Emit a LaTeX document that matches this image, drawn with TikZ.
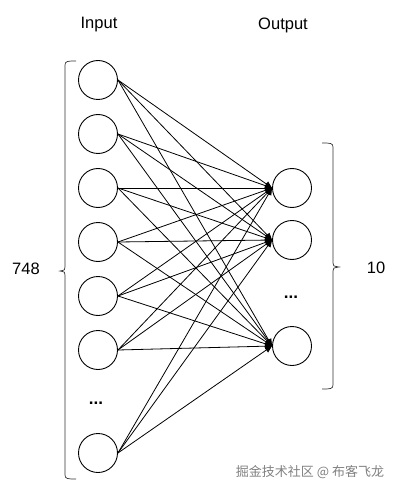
\documentclass[tikz,border=0pt]{standalone}
\usepackage{fontspec}
\setmainfont{Liberation Sans}
\newfontfamily\cjk{Noto Sans CJK SC}
\usetikzlibrary{arrows.meta}
\begin{document}
\begin{tikzpicture}[x=1pt,y=-1pt,
  neuron/.style={circle,draw,line width=0.9pt,minimum size=39pt,inner sep=0pt},
  conn/.style={line width=0.8pt,-{Triangle[length=7pt,width=6pt]}},
  brace/.style={line width=0.7pt,draw=black!80},
  lbl/.style={font=\fontsize{16.5}{19}\selectfont},
  dotsty/.style={font=\bfseries\fontsize{17}{19}\selectfont}]
\useasboundingbox (0,0) rectangle (400,494);
\node[lbl] (tin) at (99,25) {Input};
\node[lbl] (tout) at (283,25) {Output};
\foreach \i/\y in {1/80,2/134,3/188,4/242,5/296,6/350,7/453}
  \node[neuron] (i\i) at (98,\y) {};
\node[dotsty] (idots) at (96,403) {...};
\foreach \j/\y in {1/188,2/240,3/346}
  \node[neuron] (o\j) at (292,\y) {};
\node[dotsty] (odots) at (291,297) {...};
\foreach \i in {1,...,7}
  \foreach \j in {1,2,3}
    \draw[conn] (i\i.east) -- (o\j.west);
% left bracket
\draw[brace] (76,61) .. controls (68,61) and (65,61) .. (65,65) -- (65,267)
  .. controls (65,270) .. (60,271) .. controls (65,272) .. (65,275) -- (65,475)
  .. controls (65,479) and (68,479) .. (76,479);
\node[lbl] (n748) at (26,269) {748};
% right bracket
\draw[brace] (322,143) .. controls (330,143) and (333,143) .. (333,147) -- (333,263)
  .. controls (333,266) .. (339,267) .. controls (333,268) .. (333,271) -- (333,385)
  .. controls (333,389) and (330,389) .. (322,389);
\node[lbl] (n10) at (376,268) {10};
\node[font=\cjk\fontsize{13}{15}\selectfont,text=black!50] (wm) at (310,472) {掘金技术社区 @ 布客飞龙};
\end{tikzpicture}
\end{document}
